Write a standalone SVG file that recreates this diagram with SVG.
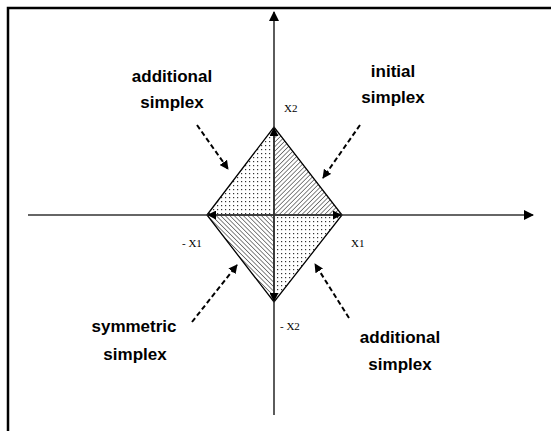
<svg xmlns="http://www.w3.org/2000/svg" width="551" height="431" viewBox="0 0 551 431">
<style>
.lbl{font-family:"Liberation Sans",Arial,sans-serif;font-weight:bold;font-size:17px;fill:#000;text-anchor:middle}
.ax{font-family:"Liberation Serif","Times New Roman",serif;font-size:11px;fill:#000}
.axis{stroke:#333;stroke-width:1.6;fill:none}
.dash{stroke:#000;stroke-width:2;stroke-dasharray:5 3;fill:none}
.edge{stroke:#000;stroke-width:1.3;fill:none}
</style>
<defs>
<pattern id="dots" width="4" height="4" patternUnits="userSpaceOnUse">
<rect width="4" height="4" fill="#fff"/>
<rect x="1" y="1" width="1.2" height="1.2" fill="#333"/>
</pattern>
<pattern id="hatchA" width="3.2" height="3.2" patternUnits="userSpaceOnUse" patternTransform="rotate(45)">
<rect width="3.2" height="3.2" fill="#fff"/>
<line x1="0" y1="0" x2="0" y2="3.2" stroke="#222" stroke-width="1.1"/>
</pattern>
<pattern id="hatchB" width="3.2" height="3.2" patternUnits="userSpaceOnUse" patternTransform="rotate(-45)">
<rect width="3.2" height="3.2" fill="#fff"/>
<line x1="0" y1="0" x2="0" y2="3.2" stroke="#222" stroke-width="1.1"/>
</pattern>
<marker id="arr" viewBox="0 0 10 10" refX="9" refY="5" markerWidth="9" markerHeight="9" markerUnits="userSpaceOnUse" orient="auto">
<path d="M0,0 L10,5 L0,10 Z" fill="#000"/>
</marker>
<marker id="arrBig" viewBox="0 0 10 10" refX="9" refY="5" markerWidth="10" markerHeight="10" markerUnits="userSpaceOnUse" orient="auto">
<path d="M0,0 L10,5 L0,10 Z" fill="#000"/>
</marker>
</defs>
<rect width="551" height="431" fill="#fff"/>
<path d="M8,431 V8 H551" fill="none" stroke="#000" stroke-width="2.5"/>

<g id="simplexes">
<polygon points="207,215 274,127 274,215" fill="url(#dots)"/>
<polygon points="274,127 342,215 274,215" fill="url(#hatchA)"/>
<polygon points="207,215 274,215 274,302" fill="url(#hatchB)"/>
<polygon points="274,215 342,215 274,302" fill="url(#dots)"/>
<polygon points="207,215 274,127 342,215 274,302" class="edge"/>
</g>

<g id="connectors">
<line x1="28" y1="215" x2="533" y2="215" class="axis" marker-end="url(#arrBig)"/>
<line x1="274" y1="415" x2="274" y2="12" class="axis" marker-end="url(#arrBig)"/>
<line x1="274" y1="215" x2="274" y2="128" class="axis" marker-end="url(#arr)"/>
<line x1="274" y1="215" x2="274" y2="301" class="axis" marker-end="url(#arr)"/>
<line x1="274" y1="215" x2="208" y2="215" class="axis" marker-end="url(#arr)"/>
<line x1="274" y1="215" x2="341" y2="215" class="axis" marker-end="url(#arr)"/>
<line x1="197" y1="125" x2="228" y2="169" class="dash" marker-end="url(#arr)"/>
<line x1="360" y1="125" x2="323" y2="178" class="dash" marker-end="url(#arr)"/>
<line x1="192" y1="322" x2="237" y2="265" class="dash" marker-end="url(#arr)"/>
<line x1="349" y1="318" x2="315" y2="264" class="dash" marker-end="url(#arr)"/>
</g>

<g id="label-additional-top">
<text class="lbl" x="172" y="82">additional</text>
<text class="lbl" x="172" y="108">simplex</text>
</g>
<g id="label-initial">
<text class="lbl" x="393" y="77">initial</text>
<text class="lbl" x="393" y="103">simplex</text>
</g>
<g id="label-symmetric">
<text class="lbl" x="134" y="332">symmetric</text>
<text class="lbl" x="135" y="360">simplex</text>
</g>
<g id="label-additional-bottom">
<text class="lbl" x="400" y="343">additional</text>
<text class="lbl" x="400" y="370">simplex</text>
</g>

<g id="axis-labels">
<text class="ax" x="284" y="112">X2</text>
<text class="ax" x="182" y="247">- X1</text>
<text class="ax" x="351" y="247">X1</text>
<text class="ax" x="280" y="330">- X2</text>
</g>
</svg>
